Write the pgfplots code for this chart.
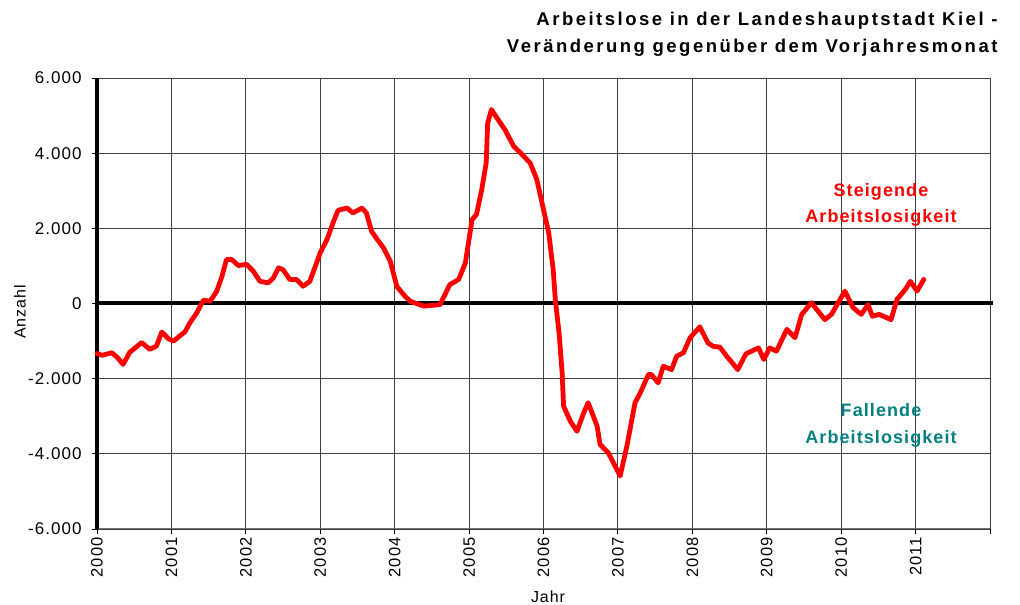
\documentclass[border=0pt]{standalone}
\usepackage{fontspec}
\setmainfont{Liberation Sans}[LetterSpace=6]
\usepackage{pgfplots}
\pgfplotsset{compat=1.18}
\definecolor{tealtext}{RGB}{0,128,128}
\pgfplotstableread{
t v
2000.00 -1330
2000.07 -1380
2000.20 -1310
2000.28 -1450
2000.35 -1620
2000.44 -1300
2000.60 -1040
2000.71 -1220
2000.80 -1130
2000.87 -760
2000.96 -940
2001.03 -1000
2001.12 -850
2001.18 -760
2001.25 -510
2001.34 -250
2001.43 90
2001.52 60
2001.61 330
2001.68 730
2001.74 1170
2001.81 1170
2001.90 1010
2002.01 1040
2002.10 860
2002.19 590
2002.30 550
2002.37 680
2002.44 950
2002.50 900
2002.59 640
2002.68 640
2002.77 460
2002.86 590
2003.00 1350
2003.09 1700
2003.18 2190
2003.24 2480
2003.36 2540
2003.44 2410
2003.56 2540
2003.62 2410
2003.69 1920
2003.76 1720
2003.85 1480
2003.94 1130
2004.03 450
2004.14 190
2004.21 60
2004.39 -70
2004.61 -30
2004.74 500
2004.86 640
2004.95 1080
2005.04 2230
2005.10 2370
2005.17 3030
2005.23 3740
2005.25 4800
2005.30 5160
2005.39 4890
2005.48 4630
2005.60 4180
2005.69 4010
2005.82 3740
2005.91 3300
2006.00 2500
2006.07 1880
2006.13 900
2006.16 80
2006.21 -800
2006.25 -1840
2006.27 -2730
2006.36 -3130
2006.45 -3400
2006.54 -2910
2006.60 -2640
2006.72 -3260
2006.76 -3750
2006.87 -3970
2007.03 -4590
2007.12 -3800
2007.23 -2640
2007.30 -2380
2007.41 -1890
2007.45 -1890
2007.54 -2110
2007.61 -1670
2007.72 -1760
2007.79 -1400
2007.88 -1310
2007.97 -910
2008.10 -620
2008.21 -1050
2008.28 -1140
2008.37 -1160
2008.46 -1400
2008.50 -1490
2008.61 -1760
2008.72 -1340
2008.89 -1180
2008.96 -1490
2009.04 -1180
2009.13 -1270
2009.27 -690
2009.38 -910
2009.47 -290
2009.60 20
2009.78 -430
2009.87 -290
2010.05 330
2010.16 -110
2010.27 -290
2010.36 -30
2010.42 -340
2010.51 -290
2010.67 -430
2010.75 110
2010.86 370
2010.93 590
2011.02 330
2011.11 640
}\kieldata
\begin{document}
\begin{tikzpicture}[x=1pt,y=1pt]
\useasboundingbox (0,0) rectangle (1020,605);
\begin{axis}[
  at={(97pt,76pt)}, anchor=south west,
  scale only axis, width=893pt, height=451pt,
  xmin=2000, xmax=2012, ymin=-6000, ymax=6000,
  xtick={2000,2001,2002,2003,2004,2005,2006,2007,2008,2009,2010,2011,2012},
  xticklabels={2000,2001,2002,2003,2004,2005,2006,2007,2008,2009,2010,2011,{}},
  ytick={-6000,-4000,-2000,0,2000,4000,6000},
  yticklabels={-6.000,-4.000,-2.000,0,2.000,4.000,6.000},
  x tick label style={rotate=90, anchor=east, font=\fontsize{16.5}{16.5}\selectfont},
  y tick label style={font=\fontsize{17}{17}\selectfont, xshift=-7pt},
  grid=major, major grid style={black!75, line width=0.9pt},
  axis x line*=bottom, axis y line*=left,
  x axis line style={black!55, line width=1pt, -},
  y axis line style={black, line width=4.5pt, -},
  tick style={black, line width=0.9pt},
  major tick length=5pt,
  tick align=outside,
  clip=false,
]
\addplot[black, line width=4pt] coordinates {(2000,0) (2012.04,0)};
\addplot[red, line width=4.8pt, line join=round, line cap=round] table[x=t,y=v] {\kieldata};
\end{axis}
\node[anchor=base east, font=\bfseries\fontsize{18.5}{18.5}\selectfont\addfontfeature{LetterSpace=13.5}] at (1001,579) {Arbeitslose in der Landeshauptstadt Kiel -};
\node[anchor=base east, font=\bfseries\fontsize{18.5}{18.5}\selectfont\addfontfeature{LetterSpace=13.5}] at (1001,552) {Veränderung gegenüber dem Vorjahresmonat};
\node[anchor=base, text=red, font=\bfseries\fontsize{18}{18}\selectfont] at (881,408) {Steigende};
\node[anchor=base, text=red, font=\bfseries\fontsize{18}{18}\selectfont] at (881,382) {Arbeitslosigkeit};
\node[anchor=base, text=tealtext, font=\bfseries\fontsize{18}{18}\selectfont] at (881,188) {Fallende};
\node[anchor=base, text=tealtext, font=\bfseries\fontsize{18}{18}\selectfont] at (881,161) {Arbeitslosigkeit};
\node[font=\fontsize{16}{16}\selectfont] at (548,8) {Jahr};
\node[rotate=90, font=\fontsize{16}{16}\selectfont] at (20,293) {Anzahl};
\end{tikzpicture}
\end{document}
